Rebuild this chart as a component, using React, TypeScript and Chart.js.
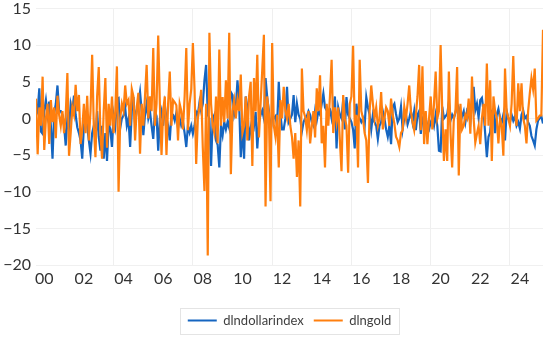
import React, { useEffect, useRef } from 'react';
import { Chart, registerables } from 'chart.js';

Chart.register(...registerables);

// monthly observations, Feb 2000 .. Sep 2025
const yearLabels = ['00', '02', '04', '06', '08', '10', '12', '14', '16', '18', '20', '22', '24'];
const yTicks = [-20, -15, -10, -5, 0, 5, 10, 15];
const seriesNames = ['dlndollarindex', 'dlngold'];

const dlndollarindex = [
  0.4, 1, 4.1, -1.8, -2.1, 1, 2.5, 0.5, 2.3, -1, -5.5, 0.7,
  2, 4.5, 1, 1, 0.5, -1, -3.7, 0, -1.5, 2, 1, 3.1,
  0.5, -1.2, -2, -3, -5.5, -1, 0, -1, -3, -4.8, -2, -1,
  -3, 1, -2.5, -4.4, -1, -5.5, -2, -5.8, -0.7, -1.5, -3.9, 0.4,
  -1, 2.7, 2.8, -1.3, 0, 0.4, 1.5, -1, 0, -3.9, 1, 2.9,
  -0.6, 1.1, 2, 3.6, 1, -2.3, 0.5, 2, 0, 1, -1, -2.8,
  1, 0.3, -4.4, 0, 1, -1, 1.8, 0, -1, -3, 0.5, 0.5,
  -0.3, 0.8, -1.3, 0, -1, -0.5, -2, -3.9, -1, -1.9, -1, -2.1,
  -1, 0.9, 0.5, 2.2, 1, 2, 5.2, 7.3, 0.5, 0, -6.5, 0,
  0.5, -3, -3.6, -6.7, -1, -2.3, -0.5, -1.5, -0.5, -1.3, 3.6, 3.2,
  0.5, 1.5, 5.2, 2, -5.3, -1, -5.5, 3, 1.5, -3, -1.3, 0,
  -1, 0.9, -4.1, -0.5, 0.5, 1.1, 0, 5.5, 2.9, 1.1, -2.1, 0.3,
  0, 0.3, -1, 5, 0.6, -1.5, -1.5, 0, 4.3, -0.5, 0, 0.5,
  3.2, -0.5, 2, 0.5, 0, -1.8, -0.5, 0, 0.3, 1, 0.5, -0.5,
  -1, 1, -0.3, 1, 0.5, 2, 3.4, 1.5, 1.1, 1, 1.2, 0,
  1.5, 3, -4.1, 1.5, 0.5, 0, 2.5, -1.5, 2.9, 0.5, 0, -0.5,
  -1.5, -4.1, 2, 0.5, 0, -0.5, 0, -1, 2.9, 1.5, 0.5, -1.5,
  0.5, -0.5, -1, -2.8, -1, -0.5, 1, 0, -1.5, -2.5, -1, -3.5,
  1.6, 2, 0.6, -0.5, 0, 1.6, -1.5, 0, 0.5, -0.8, 0, 1,
  -0.5, 1, -1.6, 0.5, 1, -2.1, 0, -0.5, 0, -1, -1.5, -0.5,
  0, -1, 0.5, -1, -4.4, -4.5, 1.6, 0, 0.3, 0.6, 2.2, -0.3,
  0.5, 0, 0.8, 2, 1.5, -0.5, 0.3, 1, -0.5, 1, 0.5, -0.5,
  2.5, 4.3, 1.1, 2, 0.1, 2.5, 2.8, 1, -2.1, -5.3, -2.5, -1.9,
  1, 1.3, -2, 0.5, 1.3, 0, -0.5, 0.5, -3, 1, 0, -0.5,
  0.5, -0.3, 0.3, -1, -0.5, -1.4, 0.5, 1.1, 0, 0.3, -0.5, -1,
  -2.4, -3, -3.7, -1.5, -0.3, 0, 0.3, -0.7,
];

const dlngold = [
  2.7, -4.9, 1.5, -1, 5.7, -4.3, 0, 2, -3.5, 2.5, -0.5, 1.5,
  -2.7, 3.1, 0.5, -1, 1, -2, 0.5, 6.2, -5.1, -2, 1.5, 0.5,
  4.6, 1, 3.2, -3.5, -1.5, 2, -2, 3.1, -3, 1, 8.7, -1,
  -5.3, 3, 7, -2, -5.5, 1, 5.5, -4, 2, -1, 3, -2,
  1, 7.1, -10, 0, 2, 1, 4.5, 2, 2.5, -1, 4, 3,
  -3, 1.5, 3.5, -4.8, 2, -1, 3, 7.3, 0, 3, 1, 9.6,
  -1, 2, 11.3, 2, -5, 1, 3, -5, 2, 6.4, -1, 2.5,
  2.2, 1.8, -3, 2, 1, -1.5, 3, 9.6, -1.6, 2, 4, 10.3,
  4, -6.2, 0, 1.5, 3.9, -4, -9.9, 2, -18.7, 11.7, 2, -1,
  -2, 3, -3.4, 9.4, -1, 2.9, -0.5, 5.2, 0, 11.7, -7.6, 1,
  2.5, 0, 2.5, 1, 6, -2, -1, 3, -3, 3, 5, -6.5,
  5.5, 1, 8.7, -2.6, 2, 6.6, 11.4, -12, 3, 0.7, -11.3, 10.3,
  -1, -2.5, 0.5, -6.7, 2.5, 0, 4.3, 1, 0, 2, -1, -2.5,
  -5.5, -2, -8, -3, -12, 6.8, 1, 0.2, -1.6, 1, -3.4, -1,
  1, -2.6, 4.1, 1, 5.9, -3.4, -1, -6.7, 2, -1, 3, 8,
  -2, 1.5, -0.5, 1.5, -3, -7.2, 3.2, 0, -1, -7.4, 2, 3,
  9.9, -1, 0.5, -6.7, 8, 1, 0, -2, -3, -8.8, 1, 4.5,
  2, 0, 1.5, -1, 0, 3.6, -1.5, 0, 1.5, 1, -1, 2.7,
  0.5, -0.7, -2.5, -3, -3.9, -2, -1.6, 1.6, 0, 2, 4.5, 1,
  -0.5, -1.6, 0.5, 3, 7.3, -1.6, 7.1, -3.5, 1, -3.5, 0, 3,
  -1.5, 2, 6.4, 0, 1, 10, 1, -5.8, -1.5, -5.8, 6.4, -2,
  -6.7, 0, 1, 7, -7.8, 2, -1.5, -1, 0.5, 0, 2.7, -2.1,
  5.7, 0, -3.3, -2.1, -1, -3.5, 0, 2, -1, 7.5, -1, 5.2,
  -5.8, 3, 1, 0, -3.4, 0, -1, -5.1, 6.8, 1, 0, -1,
  2, 8.5, 1, -1, 4.8, 1, 4.8, 0, -1, -3.4, 1, 3.4,
  5.5, 4, 6.8, -0.3, 0, 0.4, 0.4, 12.1,
];

// index of July 2000 (label position) and Jan 2004 (first vertical grid line)
const labelStart = 5;
const gridStart = 47;

const BLUE = '#1565C0';
const ORANGE = '#FF7F0E';
const FONT = 'Lato, "Open Sans", sans-serif';

const legendBoxPlugin = {
  id: 'legendBox',
  afterDraw(chart: any) {
    const lg = chart.legend;
    if (!lg || !lg.legendHitBoxes || !lg.legendHitBoxes.length) return;
    const hb = lg.legendHitBoxes;
    let minX = Infinity, maxX = -Infinity, cy = 0;
    hb.forEach((b: any) => {
      minX = Math.min(minX, b.left);
      maxX = Math.max(maxX, b.left + b.width);
      cy = b.top + b.height / 2;
    });
    const ctx = chart.ctx;
    ctx.save();
    ctx.strokeStyle = '#e4e4e4';
    ctx.lineWidth = 1;
    ctx.strokeRect(Math.round(minX - 8) + 0.5, Math.round(cy - 13) + 0.5, Math.round(maxX - minX + 16), 26);
    ctx.restore();
  },
};

export default function App() {
  const ref = useRef<HTMLCanvasElement | null>(null);

  useEffect(() => {
    if (!ref.current) return;
    const n = dlngold.length;
    const chart = new Chart(ref.current, {
      type: 'line',
      data: {
        datasets: [
          {
            label: seriesNames[0],
            data: dlndollarindex.map((v, i) => ({ x: i, y: v })),
            borderColor: BLUE,
            backgroundColor: BLUE,
            borderWidth: 2.2,
            pointRadius: 0,
            tension: 0,
            order: 1,
          },
          {
            label: seriesNames[1],
            data: dlngold.map((v, i) => ({ x: i, y: v })),
            borderColor: ORANGE,
            backgroundColor: ORANGE,
            borderWidth: 2.2,
            pointRadius: 0,
            tension: 0,
            order: 0,
          },
        ],
      },
      options: {
        responsive: false,
        animation: false,
        devicePixelRatio: 1,
        layout: { padding: { top: 8.5, right: 7, left: 0, bottom: 0 } },
        plugins: {
          tooltip: { enabled: false },
          legend: {
            position: 'bottom',
            fullSize: false,
            labels: {
              boxWidth: 29,
              boxHeight: 2,
              padding: 10,
              color: '#404040',
              font: { family: FONT, size: 13 },
              sort: (a: any, b: any) => a.datasetIndex - b.datasetIndex,
              generateLabels: (c: any) =>
                Chart.defaults.plugins.legend.labels.generateLabels(c).map((it: any) => ({ ...it, lineWidth: 0 })),
            },
          },
        },
        scales: {
          x: {
            type: 'linear',
            min: 0,
            max: n - 1,
            border: { display: false },
            afterFit: (s: any) => { s.height = 39; s.paddingLeft = 0; s.paddingRight = 0; },
            afterBuildTicks: (s: any) => {
              const t: any[] = [];
              yearLabels.forEach((_, k) => t.push({ value: labelStart + 24 * k }));
              for (let v = gridStart; v < n; v += 48) t.push({ value: v });
              t.sort((a, b) => a.value - b.value);
              s.ticks = t;
            },
            grid: {
              drawTicks: false,
              color: (ctx: any) =>
                ctx.tick && (ctx.tick.value - gridStart) % 48 === 0 ? '#efefef' : 'rgba(0,0,0,0)',
            },
            ticks: {
              autoSkip: false,
              maxRotation: 0,
              padding: 4,
              color: '#333',
              font: { family: FONT, size: 16 },
              callback: (v: any) => {
                const k = (v - labelStart) / 24;
                return Number.isInteger(k) && k >= 0 && k < yearLabels.length ? yearLabels[k] : '';
              },
            },
          },
          y: {
            min: -20,
            max: 15,
            border: { display: false },
            afterFit: (s: any) => { s.width = 36; s.paddingTop = 0; s.paddingBottom = 0; },
            afterBuildTicks: (s: any) => { s.ticks = yTicks.map((v) => ({ value: v })); },
            grid: { drawTicks: false, color: '#f0f0f0' },
            ticks: {
              padding: 5,
              color: '#333',
              font: { family: FONT, size: 16 },
              callback: (v: any) => (v < 0 ? '\u2212' + Math.abs(v) : String(v)),
            },
          },
        },
      },
      plugins: [legendBoxPlugin],
    } as any);
    return () => chart.destroy();
  }, []);

  return (
    <div style={{ position: 'absolute', left: 0, top: 0, width: 550, height: 337, background: '#fff' }}>
      <canvas ref={ref} width={550} height={337} />
    </div>
  );
}
